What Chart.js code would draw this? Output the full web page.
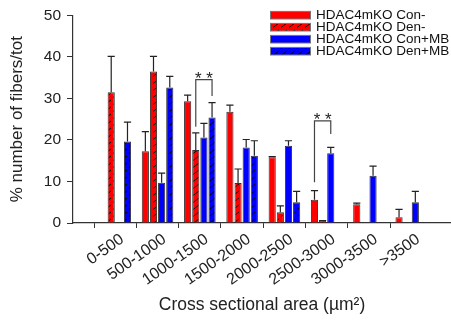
<!DOCTYPE html>
<html>
<head>
<meta charset="utf-8">
<script src="https://cdn.jsdelivr.net/npm/chart.js@4.4.1/dist/chart.umd.min.js"></script>
<style>
  html, body { margin: 0; padding: 0; background: #fff; overflow: hidden; }
  canvas { display: block; }
</style>
</head>
<body>
<canvas id="chart" width="451" height="321"></canvas>
<script>
// size classes (µm2)
const categories = ['0-500', '500-1000', '1000-1500', '1500-2000', '2000-2500', '2500-3000', '3000-3500', '>3500'];

// % fibers, mean and SEM
const conMinus    = [null, 17.3, 29.3, 26.8, 15.8, 5.6, 4.5, 1.4];
const conMinusErr = [null, 4.7, 1.5, 1.6, 0.2, 2.2, 0.3, 1.9];
const denMinus    = [31.5, 36.5, 17.6, 9.6, 2.6, 0.5, null, null];
const denMinusErr = [8.6, 3.6, 4.1, 3.4, 1.5, 0.1, null, null];
const conMB       = [null, 9.7, 20.6, 18.2, 18.6, 16.8, 11.4, 5.0];
const conMBErr    = [null, 2.3, 3.4, 1.9, 1.2, 1.4, 2.3, 2.6];
const denMB       = [19.6, 32.6, 25.4, 16.2, 5.0, null, null, null];
const denMBErr    = [4.7, 2.7, 3.6, 3.6, 2.6, null, null, null];

// significance brackets (** p<0.01)
const sigCategory = [2, 5];
const sigFrom     = [1, 0];
const sigTo       = [3, 2];
const sigTop      = [34.5, 24.6];
const sigLeftEnd  = [23.2, 9.8];
const sigRightEnd = [30.6, 21.4];

const yTicks = [0, 10, 20, 30, 40, 50];

const FONT = '"Liberation Sans", Arial, sans-serif';
const RED = '#ff0000', BLUE = '#0000ff';

// hatched fill: colour + short black diagonals
function hatch(color) {
  const c = document.createElement('canvas');
  c.width = 8; c.height = 7;
  const g = c.getContext('2d');
  g.fillStyle = color;
  g.fillRect(0, 0, 8, 7);
  g.strokeStyle = '#000';
  g.lineWidth = 0.9;
  g.beginPath();
  g.moveTo(1, 6.5);
  g.lineTo(7, 2);
  g.stroke();
  return g.createPattern(c, 'repeat');
}

const toXY = arr => arr.map((v, i) => ({ x: i, y: v }));

const errorBars = {
  id: 'errorBars',
  afterDatasetsDraw(chart) {
    const ctx = chart.ctx, ys = chart.scales.y;
    ctx.save();
    ctx.strokeStyle = '#222';
    ctx.lineWidth = 1.2;
    chart.data.datasets.forEach((ds, di) => {
      const meta = chart.getDatasetMeta(di);
      ds.errors.forEach((e, i) => {
        const v = ds.data[i].y;
        if (v == null || e == null) return;
        const bar = meta.data[i];
        const top = ys.getPixelForValue(v + e);
        const half = bar.width / 2;
        ctx.beginPath();
        ctx.moveTo(bar.x, bar.y);
        ctx.lineTo(bar.x, top);
        ctx.moveTo(bar.x - half, top);
        ctx.lineTo(bar.x + half, top);
        ctx.stroke();
      });
    });
    ctx.restore();
  }
};

const brackets = {
  id: 'brackets',
  afterDatasetsDraw(chart) {
    const ctx = chart.ctx, ys = chart.scales.y;
    ctx.save();
    ctx.strokeStyle = '#444';
    ctx.lineWidth = 1.2;
    ctx.fillStyle = '#222';
    ctx.font = '17px ' + FONT;
    ctx.textAlign = 'center';
    ctx.textBaseline = 'alphabetic';
    sigCategory.forEach((cat, k) => {
      const x1 = chart.getDatasetMeta(sigFrom[k]).data[cat].x;
      const x2 = chart.getDatasetMeta(sigTo[k]).data[cat].x;
      const top = ys.getPixelForValue(sigTop[k]);
      ctx.beginPath();
      ctx.moveTo(x1, ys.getPixelForValue(sigLeftEnd[k]));
      ctx.lineTo(x1, top);
      ctx.lineTo(x2, top);
      ctx.lineTo(x2, ys.getPixelForValue(sigRightEnd[k]));
      ctx.stroke();
      ctx.fillText('* *', (x1 + x2) / 2, top + 4);
    });
    ctx.restore();
  }
};

const boxLegend = {
  id: 'boxLegend',
  afterDraw(chart) {
    const ctx = chart.ctx;
    ctx.save();
    ctx.font = '13.5px ' + FONT;
    ctx.textBaseline = 'middle';
    ctx.textAlign = 'left';
    chart.data.datasets.forEach((ds, i) => {
      const cy = 15.2 + i * 12;
      ctx.fillStyle = ds.backgroundColor;
      ctx.fillRect(270, cy - 3.8, 40, 7.6);
      ctx.strokeStyle = '#777';
      ctx.lineWidth = 1;
      ctx.strokeRect(270.5, cy - 3.8, 40, 7.6);
      ctx.fillStyle = '#111';
      ctx.fillText(ds.label, 316, cy + 0.5);
    });
    ctx.restore();
  }
};

new Chart(document.getElementById('chart'), {
  type: 'bar',
  data: {
    datasets: [
      { label: 'HDAC4mKO Con-', data: toXY(conMinus), errors: conMinusErr, backgroundColor: RED },
      { label: 'HDAC4mKO Den-', data: toXY(denMinus), errors: denMinusErr, backgroundColor: hatch(RED) },
      { label: 'HDAC4mKO Con+MB', data: toXY(conMB), errors: conMBErr, backgroundColor: BLUE },
      { label: 'HDAC4mKO Den+MB', data: toXY(denMB), errors: denMBErr, backgroundColor: hatch(BLUE) }
    ]
  },
  options: {
    responsive: false,
    devicePixelRatio: 1,
    animation: false,
    layout: { padding: { left: 0, right: 0, top: 13, bottom: 0 } },
    datasets: {
      bar: {
        borderColor: '#333',
        borderWidth: 1,
        borderSkipped: 'start',
        categoryPercentage: 0.77,
        barPercentage: 0.88
      }
    },
    plugins: {
      legend: { display: false },
      tooltip: { enabled: false }
    },
    scales: {
      x: {
        type: 'linear',
        min: -1,
        max: 7.94,
        offset: false,
        afterFit: s => { s.height = 98; },
        border: { color: '#333', width: 1.2 },
        grid: {
          drawOnChartArea: false,
          tickLength: 5,
          tickColor: c => (c.tick && c.tick.value >= 0 ? '#333' : 'rgba(0,0,0,0)')
        },
        ticks: {
          stepSize: 1,
          includeBounds: false,
          autoSkip: false,
          minRotation: 35,
          maxRotation: 35,
          labelOffset: 7,
          padding: 2,
          color: '#222',
          font: { family: FONT, size: 16 },
          callback: v => categories[v] ?? ''
        },
        title: {
          display: true,
          text: 'Cross sectional area (µm²)',
          color: '#222',
          font: { family: FONT, size: 17.5 },
          padding: { top: 0, bottom: 5 }
        }
      },
      y: {
        min: 0,
        max: 50,
        afterFit: s => { s.width = 73; },
        afterBuildTicks: s => { s.ticks = yTicks.map(v => ({ value: v })); },
        border: { color: '#333', width: 1.2 },
        grid: { drawOnChartArea: false, tickLength: 6, tickColor: '#333' },
        ticks: {
          padding: 6,
          color: '#222',
          font: { family: FONT, size: 15.5 }
        },
        title: {
          display: true,
          text: '% number of fibers/tot',
          color: '#222',
          font: { family: FONT, size: 17 },
          padding: { top: 7, bottom: 0 }
        }
      }
    }
  },
  plugins: [errorBars, brackets, boxLegend]
});
</script>
</body>
</html>
